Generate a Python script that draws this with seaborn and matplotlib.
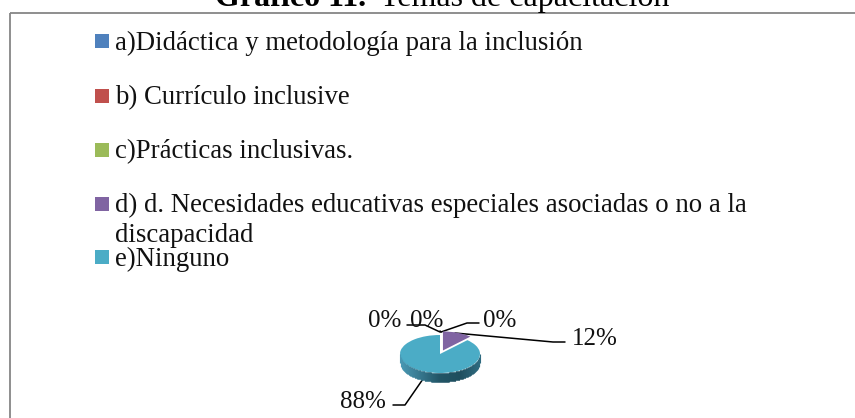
import numpy as np
import matplotlib
matplotlib.use('Agg')
import matplotlib.pyplot as plt
from matplotlib.patches import Rectangle
import seaborn as sns

categories = ['a)Didáctica y metodología para la inclusión',
              'b) Currículo inclusive',
              'c)Prácticas inclusivas.',
              'd) d. Necesidades educativas especiales asociadas o no a la\ndiscapacidad',
              'e)Ninguno']
values = [0, 0, 0, 12, 88]
colors = ['#4F81BD', '#C0504D', '#9BBB59', '#8064A2', '#4BACC6']

W, H = 855, 418

sns.set_theme(style='white')
plt.rcParams['font.family'] = ['Liberation Serif', 'DejaVu Serif']

fig = plt.figure(figsize=(W / 100, H / 100), dpi=100)
fig.patch.set_facecolor('white')

# background axes in pixel coordinates, for frame, legend and leaders
bg = fig.add_axes([0, 0, 1, 1])
bg.set_xlim(0, W)
bg.set_ylim(H, 0)
bg.axis('off')

bg.plot([9.5, 9.5], [H, 13], color='#868686', lw=1.3, solid_capstyle='butt')
bg.plot([9.5, W], [13, 13], color='#868686', lw=1.3, solid_capstyle='butt')

# title is cut by the top of the picture, same as the reference
bg.text(215, 6, 'Gráfico 11.', fontsize=23, fontweight='bold', color='black', va='baseline')
bg.text(380, 6, 'Temas de capacitación', fontsize=23, color='black', va='baseline')

# legend
legend_y = [41, 96, 150, 204, 257]
for cat, col, y in zip(categories, colors, legend_y):
    bg.add_patch(Rectangle((95, y - 7), 14, 14, facecolor=col, edgecolor='none'))
    for i, line in enumerate(cat.split('\n')):
        bg.text(115, y + 8.5 + i * 30, line, fontsize=19.3, color='#111111', va='baseline')

# pie with depth, squashed axes gives the tilt
px0, px1, py0, py1 = 400, 480, 335, 373
ax = fig.add_axes([px0 / W, 1 - py1 / H, (px1 - px0) / W, (py1 - py0) / H])
depth = 9 / ((py1 - py0) / 2)
side = sns.blend_palette(['#4A9AB5', '#37788F', '#225566', '#1F4E5E', '#2F6B80'], n_colors=160)
xs = np.linspace(-1, 1, 160)
for x, c in zip(xs, side):
    y_edge = -np.sqrt(max(1 - x ** 2, 0))
    ax.plot([x, x], [y_edge, y_edge - depth], color=c, lw=0.8, clip_on=False, solid_capstyle='butt')

wedges, _ = ax.pie(values, colors=sns.color_palette(colors), startangle=90, counterclock=False,
                   explode=[0, 0, 0, 0.2, 0.0], radius=1,
                   wedgeprops={'edgecolor': 'none', 'clip_on': False})
ax.set_aspect('auto')
ax.set_xlim(-1, 1)
ax.set_ylim(-1, 1)
ax.axis('off')

# data labels with leaders
labels = [f'{v}%' for v in values]
label_pos = [(368, 327), (410, 327), (483, 327), (572, 345), (340, 408)]
leaders = [[(407, 325), (425, 325), (440, 332)],
           [(440, 331), (441, 332)],
           [(479, 323), (467, 323), (441, 332)],
           [(565, 342), (553, 342), (455, 333)],
           [(393, 405), (405, 405), (423, 379)]]
for lab, pos, line in zip(labels, label_pos, leaders):
    bg.text(pos[0], pos[1], lab, fontsize=18, color='#111111', va='baseline')
    pts = np.array(line)
    bg.plot(pts[:, 0], pts[:, 1], color='black', lw=1.1)

fig.savefig('out.png', dpi=100)
